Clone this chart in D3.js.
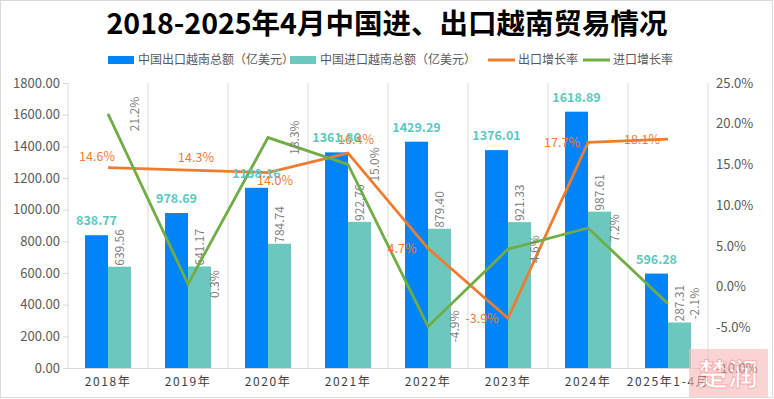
<!DOCTYPE html>
<html><head><meta charset="utf-8">
<script src="https://cdn.jsdelivr.net/npm/d3@7"></script>
<style>
html,body{margin:0;padding:0;background:#fff;}
svg{display:block;font-family:"Noto Sans CJK SC","Noto Sans",sans-serif;}
</style></head>
<body>
<script>
const categories = ["2018年","2019年","2020年","2021年","2022年","2023年","2024年","2025年1-4月"];
const exportValues = [838.77, 978.69, 1138.16, 1361.86, 1429.29, 1376.01, 1618.89, 596.28];
const importValues = [639.56, 641.17, 784.74, 922.76, 879.40, 921.33, 987.61, 287.31];
const exportGrowth = [14.6, 14.3, 14.0, 16.4, 4.7, -3.9, 17.7, 18.1];
const importGrowth = [21.2, 0.3, 18.3, 15.0, -4.9, 4.6, 7.2, -2.1];
const leftTicks = [0,200,400,600,800,1000,1200,1400,1600,1800];
const rightTicks = [-10,-5,0,5,10,15,20,25];
const seriesNames = ["中国出口越南总额（亿美元）","中国进口越南总额（亿美元）","出口增长率","进口增长率"];
const titleText = "2018-2025年4月中国进、出口越南贸易情况";
// placement of export-growth labels relative to its point
const exportLabelPlace = ["aboveL","aboveR","belowR","aboveR","left","left","left","left"];

const W=774,H=399;
const C={blue:"#0084F8",teal:"#6CC7BC",orange:"#ED7D31",green:"#70AD47",lab:"#5BC8C0",txt:"#595959",grid:"#D9D9D9"};
const svg=d3.select("body").append("svg").attr("width",W).attr("height",H);
svg.append("rect").attr("x",0.5).attr("y",0.5).attr("width",W-2).attr("height",H-2).attr("fill","#fff").attr("stroke","#D9D9D9");

const x=d3.scaleBand().domain(categories).range([68,708]).padding(0);
const x1=d3.scaleBand().domain(["exp","imp"]).range([17,63]);
const yL=d3.scaleLinear().domain([0,1800]).range([368,83]);
const yR=d3.scaleLinear().domain([-10,25]).range([368,83]);

// title
svg.append("text").attr("x",387).attr("y",34).attr("text-anchor","middle")
  .attr("font-size",28.5).attr("font-weight","bold").attr("fill","#000").text(titleText);

// gridlines (category boundaries)
const bounds=categories.map(c=>x(c)+x.bandwidth());
svg.append("g").selectAll("line").data(bounds).join("line")
  .attr("x1",d=>d).attr("x2",d=>d).attr("y1",83).attr("y2",368).attr("stroke",C.grid);
svg.append("line").attr("x1",68).attr("x2",68).attr("y1",83).attr("y2",368).attr("stroke",C.grid);

// left axis
const gL=svg.append("g").attr("transform","translate(68,0)")
  .call(d3.axisLeft(yL).tickValues(leftTicks).tickFormat(d3.format(".2f")).tickSize(5).tickPadding(3));
gL.select(".domain").remove();
gL.selectAll(".tick line").attr("stroke",C.grid);
gL.selectAll(".tick text").attr("fill",C.txt).attr("font-size",13).attr("font-family","'Noto Sans CJK SC',sans-serif");

// right axis
const gR=svg.append("g").attr("transform","translate(708,0)")
  .call(d3.axisRight(yR).tickValues(rightTicks).tickFormat(d=>d.toFixed(1)+"%").tickSize(0).tickPadding(8));
gR.select(".domain").remove();
gR.selectAll(".tick text").attr("fill",C.txt).attr("font-size",13).attr("font-family","'Noto Sans CJK SC',sans-serif");

// bottom axis
const gB=svg.append("g").attr("transform","translate(0,368)")
  .call(d3.axisBottom(x).tickSize(0).tickPadding(9));
gB.select(".domain").attr("stroke",C.grid).attr("d","M63,0.5H708");
gB.selectAll(".tick text").attr("fill","#404040").attr("font-size",12).attr("letter-spacing","1.6px")
  .attr("font-family","'Noto Sans CJK SC',sans-serif");

// bars
svg.append("g").selectAll("rect").data(exportValues).join("rect")
  .attr("x",(d,i)=>x(categories[i])+x1("exp")).attr("width",x1.bandwidth())
  .attr("y",d=>yL(d)).attr("height",d=>yL(0)-yL(d)).attr("fill",C.blue);
svg.append("g").selectAll("rect").data(importValues).join("rect")
  .attr("x",(d,i)=>x(categories[i])+x1("imp")).attr("width",x1.bandwidth())
  .attr("y",d=>yL(d)).attr("height",d=>yL(0)-yL(d)).attr("fill",C.teal);

// import bar labels (rotated)
svg.append("g").selectAll("text").data(importValues).join("text")
  .attr("transform",(d,i)=>`translate(${x(categories[i])+x1("imp")+x1.bandwidth()/2},${yL(d)-1}) rotate(-90)`)
  .attr("dy","0.35em").attr("text-anchor","start").attr("font-size",12).attr("fill","#7F7F7F")
  .text(d=>d.toFixed(2));

// lines
const lineE=d3.line().x((d,i)=>x(categories[i])+x.bandwidth()/2).y(d=>yR(d));
svg.append("path").datum(exportGrowth).attr("d",lineE).attr("fill","none").attr("stroke",C.orange).attr("stroke-width",2.8);
svg.append("path").datum(importGrowth).attr("d",lineE).attr("fill","none").attr("stroke",C.green).attr("stroke-width",2.8);

// export bar labels
svg.append("g").selectAll("text").data(exportValues).join("text")
  .attr("x",(d,i)=>x(categories[i])+x1("exp")+x1.bandwidth()/2).attr("y",d=>yL(d)-10)
  .attr("text-anchor","middle").attr("font-size",12.5).attr("font-weight","bold").attr("fill",C.lab)
  .text(d=>d.toFixed(2));

// import growth labels (rotated)
svg.append("g").selectAll("text").data(importGrowth).join("text")
  .attr("transform",(d,i)=>`translate(${x(categories[i])+x.bandwidth()/2+27},${yR(d)}) rotate(-90)`)
  .attr("dy","0.35em").attr("text-anchor","middle").attr("font-size",12).attr("fill","#7F7F7F")
  .text(d=>d.toFixed(1)+"%");

// export growth labels
const off={aboveL:[-11,-11],aboveR:[8,-13],belowR:[7,8],left:[-26,0]};
svg.append("g").selectAll("text").data(exportGrowth).join("text")
  .attr("x",(d,i)=>x(categories[i])+x.bandwidth()/2+off[exportLabelPlace[i]][0])
  .attr("y",(d,i)=>yR(d)+off[exportLabelPlace[i]][1])
  .attr("dy","0.35em").attr("text-anchor","middle").attr("font-size",12.5).attr("fill",C.orange)
  .text(d=>d.toFixed(1)+"%");

// legend
const lg=svg.append("g").attr("font-size",12).attr("fill",C.txt);
const items=[{t:"rect",c:C.blue,x:108},{t:"rect",c:C.teal,x:290},{t:"line",c:C.orange,x:488},{t:"line",c:C.green,x:583}];
items.forEach((it,i)=>{
  if(it.t==="rect") lg.append("rect").attr("x",it.x).attr("y",56).attr("width",26).attr("height",8).attr("fill",it.c);
  else lg.append("line").attr("x1",it.x).attr("x2",it.x+27).attr("y1",60).attr("y2",60).attr("stroke",it.c).attr("stroke-width",3);
  lg.append("text").attr("x",it.x+30).attr("y",60).attr("dy","0.35em").attr("fill",C.txt).text(seriesNames[i]);
});

// watermark
const wm=svg.append("g").attr("opacity",0.6);
wm.append("rect").attr("x",689).attr("y",349).attr("width",79).attr("height",48).attr("fill","#F7B9B9");
wm.append("text").attr("x",728).attr("y",385).attr("text-anchor","middle").attr("font-size",30)
  .attr("font-weight","bold").attr("fill","#fff").attr("stroke","#F08080").attr("stroke-width",1).text("楚润");
</script>
</body></html>
